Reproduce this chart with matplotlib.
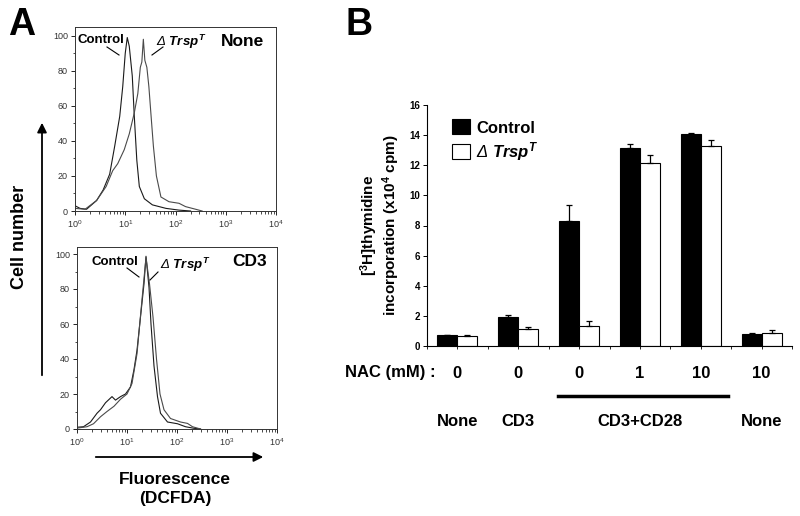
import numpy as np
import matplotlib
matplotlib.use("Agg")
import matplotlib.pyplot as plt
from matplotlib.lines import Line2D
from matplotlib.patches import Patch
from matplotlib.ticker import MultipleLocator, LogLocator, NullFormatter

plt.rcParams['font.family'] = ['Liberation Sans', 'DejaVu Sans']
plt.rcParams['mathtext.fontset'] = 'custom'
plt.rcParams['mathtext.rm'] = 'Liberation Sans'
plt.rcParams['mathtext.it'] = 'Liberation Sans:italic:bold'
plt.rcParams['mathtext.bf'] = 'Liberation Sans:bold'

# ---- Panel A : histograms (log10 fluorescence, cell number) ----
top_ctrl_logx = [0.0, 0.1, 0.23, 0.43, 0.56, 0.69, 0.79, 0.89, 0.95, 1.0, 1.04,
                 1.08, 1.14, 1.18, 1.23, 1.28, 1.38, 1.54, 1.81, 2.07, 2.3]
top_ctrl_y = [3, 1.5, 1, 6, 12, 21, 37, 54, 71, 90, 99,
              94, 77, 54, 29, 14, 7, 3.5, 1.5, 0.5, 0]
top_trsp_logx = [0.0, 0.2, 0.43, 0.62, 0.75, 0.85, 0.98, 1.08, 1.18, 1.25, 1.30,
                 1.33, 1.36, 1.39, 1.43, 1.47, 1.52, 1.56, 1.62, 1.71, 1.87,
                 2.07, 2.2, 2.4, 2.53]
top_trsp_y = [1.5, 1, 6, 14, 23, 27, 35, 44, 56, 67, 82,
              85, 98, 86, 82, 71, 52, 37, 20, 8, 5.3,
              4.4, 2.5, 1, 0]

cd3_ctrl_logx = [0.0, 0.13, 0.27, 0.40, 0.47, 0.57, 0.70, 0.77, 0.87, 0.97, 1.07,
                 1.14, 1.20, 1.27, 1.34, 1.38, 1.44, 1.48, 1.54, 1.61, 1.67,
                 1.81, 2.01, 2.17, 2.34, 2.47]
cd3_ctrl_y = [1, 1.3, 4, 9, 11, 15, 18.5, 16.5, 18.5, 20, 24,
              34, 45, 64, 83, 98.7, 81, 60, 36, 18.5, 9,
              4, 3, 1.3, 0.4, 0]
cd3_trsp_logx = [0.0, 0.20, 0.33, 0.47, 0.60, 0.74, 0.87, 1.00, 1.10, 1.20, 1.30,
                 1.38, 1.45, 1.52, 1.59, 1.66, 1.74, 1.87, 2.07, 2.21, 2.31, 2.47]
cd3_trsp_y = [0.5, 1.3, 3, 7, 10, 13, 17, 20, 26, 43, 74,
              98, 83, 64, 40, 20, 11, 6, 4, 3.2, 1.3, 0]

# ---- Panel B : [3H]thymidine incorporation ----
nac = ['0', '0', '0', '1', '10', '10']
stim = ['None', 'CD3', 'CD3+CD28', 'None']
control = [0.70, 1.95, 8.30, 13.15, 14.10, 0.77]
control_err = [0.05, 0.13, 1.05, 0.25, 0.05, 0.07]
trsp = [0.67, 1.10, 1.33, 12.15, 13.25, 0.84]
trsp_err = [0.05, 0.13, 0.32, 0.50, 0.40, 0.24]

W, H = 800, 516
fig = plt.figure(figsize=(8, 5.16), dpi=100)


def box(x0, y0, x1, y1):
    return [x0 / W, 1 - y1 / H, (x1 - x0) / W, (y1 - y0) / H]


def fpt(x, y):
    return (x / W, 1 - y / H)


def hist_axes(rect, ytop, xs_a, ys_a, xs_b, ys_b):
    ax = fig.add_axes(rect)
    ax.plot(10 ** np.array(xs_a), ys_a, color='#1a1a1a', lw=0.8)
    ax.plot(10 ** np.array(xs_b), ys_b, color='#4a4a4a', lw=0.8)
    ax.set_xscale('log')
    ax.set_xlim(1, 1e4)
    ax.set_ylim(0, ytop)
    ax.set_yticks([0, 20, 40, 60, 80, 100])
    ax.yaxis.set_minor_locator(MultipleLocator(10))
    ax.xaxis.set_major_locator(LogLocator(base=10, numticks=10))
    ax.xaxis.set_minor_locator(LogLocator(base=10, subs=np.arange(2, 10), numticks=20))
    ax.xaxis.set_minor_formatter(NullFormatter())
    ax.tick_params(labelsize=6.5, labelcolor='#333333', length=3, width=0.6, pad=2)
    ax.tick_params(which='minor', length=1.8, width=0.5)
    for s in ax.spines.values():
        s.set_linewidth(0.7)
        s.set_color('#333333')
    return ax


axA1 = hist_axes(box(75, 27, 276, 211), 105, top_ctrl_logx, top_ctrl_y,
                 top_trsp_logx, top_trsp_y)
axA2 = hist_axes(box(77, 247, 277, 429), 104, cd3_ctrl_logx, cd3_ctrl_y,
                 cd3_trsp_logx, cd3_trsp_y)

trsp_label = r"Δ $\mathit{Trsp}^{\mathit{T}}$"

# annotations panel A
fig.text(*fpt(78, 40), 'Control', fontsize=9.5, fontweight='bold', va='center')
fig.add_artist(Line2D([107 / W, 119 / W], [1 - 47 / H, 1 - 55 / H], color='black', lw=0.8))
fig.text(*fpt(156, 42), trsp_label, fontsize=9.5, fontstyle='italic', va='center')
fig.add_artist(Line2D([163 / W, 152 / W], [1 - 47 / H, 1 - 55 / H], color='black', lw=0.8))
fig.text(*fpt(221, 42), 'None', fontsize=12.5, fontweight='bold', va='center')

fig.text(*fpt(91, 262), 'Control', fontsize=9.5, fontweight='bold', va='center')
fig.add_artist(Line2D([127 / W, 139 / W], [1 - 268 / H, 1 - 277 / H], color='black', lw=0.8))
fig.text(*fpt(160, 265), trsp_label, fontsize=9.5, fontstyle='italic', va='center')
fig.add_artist(Line2D([158 / W, 150 / W], [1 - 272 / H, 1 - 280 / H], color='black', lw=0.8))
fig.text(*fpt(232, 262), 'CD3', fontsize=12.5, fontweight='bold', va='center')

# axis arrows panel A
fig.add_artist(matplotlib.patches.FancyArrowPatch(fpt(42, 378), fpt(42, 120), transform=fig.transFigure,
                                                   arrowstyle='-|>', mutation_scale=14, lw=1.3, color='black'))
fig.text(*fpt(20, 237), 'Cell number', rotation=90, fontsize=13, fontweight='bold',
         ha='center', va='center')
fig.add_artist(matplotlib.patches.FancyArrowPatch(fpt(93, 457), fpt(266, 457), transform=fig.transFigure,
                                                   arrowstyle='-|>', mutation_scale=14, lw=1.3, color='black'))
fig.text(*fpt(175, 480), 'Fluorescence', fontsize=12.5, fontweight='bold', ha='center', va='center')
fig.text(*fpt(175, 499), '(DCFDA)', fontsize=12.5, fontweight='bold', ha='center', va='center')

fig.text(*fpt(22, 25), 'A', fontsize=27, fontweight='bold', ha='center', va='center')
fig.text(*fpt(359, 25), 'B', fontsize=27, fontweight='bold', ha='center', va='center')

# ---- Panel B ----
axB = fig.add_axes(box(427, 105, 792, 346))
x = np.arange(len(nac))
bw = 0.33
axB.bar(x - bw / 2, control, bw, color='black', edgecolor='black', lw=0.8, label='Control')
axB.bar(x + bw / 2, trsp, bw, color='white', edgecolor='black', lw=0.8, label=trsp_label)
axB.errorbar(x - bw / 2, control, yerr=[np.zeros(len(x)), control_err], fmt='none',
             ecolor='black', elinewidth=0.9, capsize=2.5, capthick=0.9)
axB.errorbar(x + bw / 2, trsp, yerr=[np.zeros(len(x)), trsp_err], fmt='none',
             ecolor='black', elinewidth=0.9, capsize=2.5, capthick=0.9)
axB.set_xlim(-0.49, 5.49)
axB.set_ylim(0, 16)
axB.set_yticks(np.arange(0, 17, 2))
axB.set_xticks(np.arange(-0.5, 6, 0.5))
axB.set_xticklabels([])
axB.tick_params(axis='x', length=2, width=0.6)
axB.tick_params(axis='y', length=3, width=0.7, labelsize=7, pad=2)
for t in axB.get_yticklabels():
    t.set_fontweight('bold')
axB.spines['top'].set_visible(False)
axB.spines['right'].set_visible(False)
for s in ('left', 'bottom'):
    axB.spines[s].set_linewidth(0.8)
axB.set_ylabel(r"[$^{\mathbf{3}}$H]thymidine" + "\n" + r"incorporation (x10$^{\mathbf{4}}$ cpm)",
               fontsize=11, fontweight='bold', labelpad=5, linespacing=1.05)
leg = axB.legend(handles=[Patch(facecolor='black', edgecolor='black', lw=0.8),
                          Patch(facecolor='white', edgecolor='black', lw=0.8)],
                 labels=['Control', trsp_label], loc='upper left', bbox_to_anchor=(0.068, 0.94),
                 frameon=False, prop={'weight': 'bold', 'size': 12},
                 handlelength=1.1, handleheight=1.0, handletextpad=0.35, labelspacing=0.25,
                 borderpad=0, borderaxespad=0)
leg.get_texts()[1].set_fontweight('normal')
leg.get_texts()[1].set_fontstyle('italic')

# NAC row and stimulation labels below panel B
fig.text(*fpt(345, 373), 'NAC (mM) :', fontsize=12, fontweight='bold', va='center')
for i, lab in enumerate(nac):
    xd = axB.transData.transform((x[i], 0))[0]
    fig.text(xd / W, 1 - 373 / H, lab, fontsize=12, fontweight='bold', ha='center', va='center')

stim_pos = [0, 1, 3, 5]
for xi, lab in zip(stim_pos, stim):
    xd = axB.transData.transform((xi, 0))[0]
    fig.text(xd / W, 1 - 422 / H, lab, fontsize=12, fontweight='bold', ha='center', va='center')
fig.add_artist(Line2D([558 / W, 728 / W], [1 - 396 / H, 1 - 396 / H], color='black', lw=2.5))

fig.savefig('out.png', dpi=100)
